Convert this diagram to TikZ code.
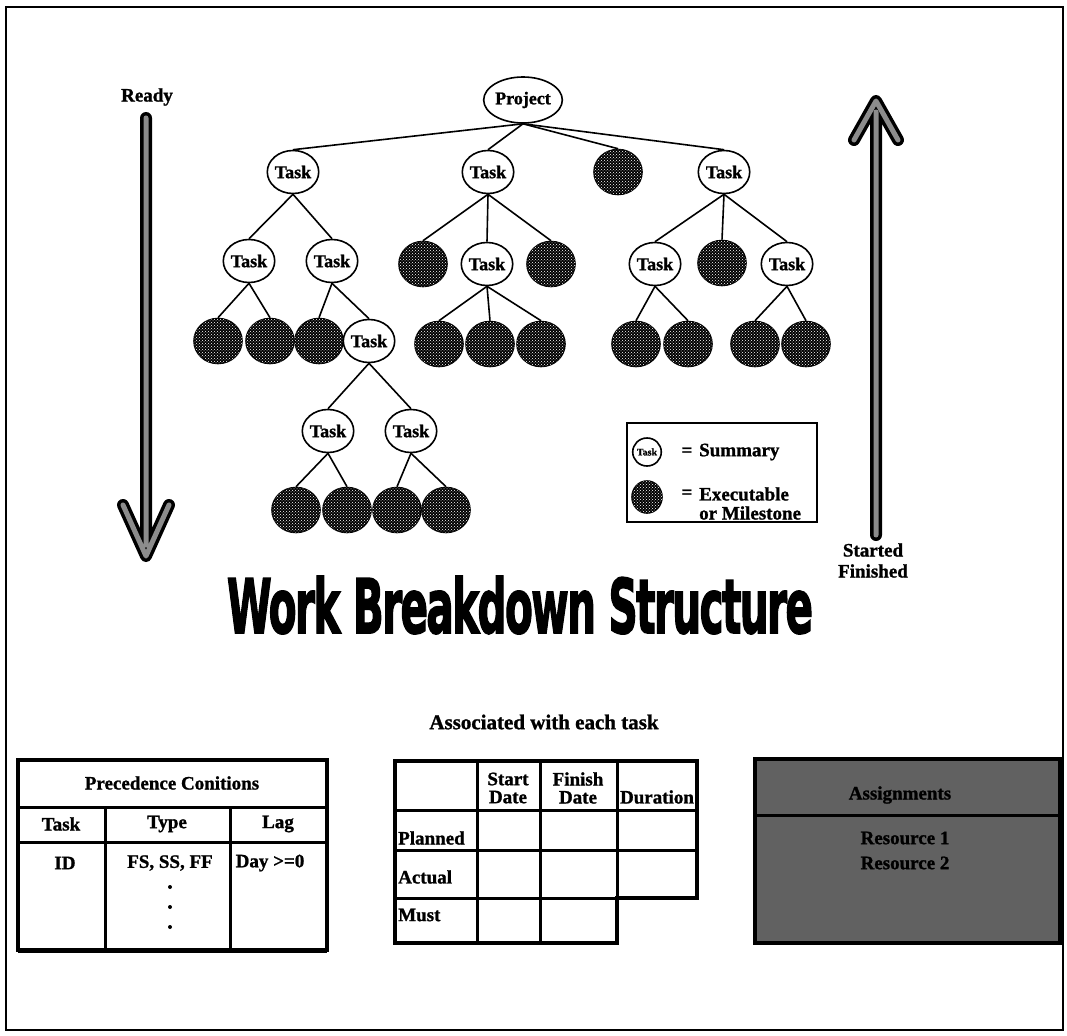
\documentclass[tikz,border=0pt]{standalone}
\usepackage{fontspec}
\usepackage{graphicx}
\setmainfont{Liberation Serif}[BoldFeatures={FakeBold=1.2}]
\newfontfamily\headfont{DejaVu Sans}[BoldFeatures={FakeBold=2.5}, LetterSpace=-4]
\usetikzlibrary{shapes.geometric,patterns}
\tikzset{
  lbl/.style={font=\fontsize{19}{21}\selectfont\bfseries, inner sep=0pt},
  summary/.style={ellipse, draw, line width=1.6pt, fill=white, minimum width=47pt,
    minimum height=43pt, inner sep=0pt, font=\fontsize{18}{20}\selectfont\bfseries},
  leaf/.style={ellipse, draw, line width=1.6pt, fill=black,
    postaction={pattern=crosshatch dots, pattern color=white},
    minimum width=48pt, minimum height=45pt, inner sep=0pt},
  link/.style={line width=1.6pt},
  rule/.style={line width=3pt},
  rim/.style={line width=4pt},
  shaftout/.style={line width=12pt, line join=round, line cap=round},
  shaftin/.style={line width=5pt, line join=round, line cap=round, black!45},
}
\begin{document}
\begin{tikzpicture}[x=1pt, y=-1pt]
\useasboundingbox (0,0) rectangle (1067,1035);
\draw[line width=2pt] (6,7) rectangle (1063,1030);

% ---------- tree ----------
\node[summary, minimum width=73pt, minimum height=46pt] (P) at (523,100) {Project};
\node[summary] (T1) at (293,172) {Task};
\node[summary] (T2) at (488,172) {Task};
\node[leaf]    (L0) at (618,172) {};
\node[summary] (T3) at (724,172) {Task};

\node[summary] (T11) at (249,261) {Task};
\node[summary] (T12) at (332,261) {Task};
\node[leaf]    (L21) at (423,264) {};
\node[summary] (T22) at (487,264) {Task};
\node[leaf]    (L23) at (551,264) {};
\node[summary] (T31) at (655,264) {Task};
\node[leaf]    (L32) at (722,263) {};
\node[summary] (T33) at (787,264) {Task};

\node[leaf]    (L111) at (218,341) {};
\node[leaf]    (L112) at (270,341) {};
\node[leaf]    (L121) at (319,341) {};
\node[summary] (T122) at (369,341) {Task};
\node[leaf]    (L221) at (439,344) {};
\node[leaf]    (L222) at (490,344) {};
\node[leaf]    (L223) at (541,344) {};
\node[leaf]    (L311) at (636,344) {};
\node[leaf]    (L312) at (688,344) {};
\node[leaf]    (L331) at (755,344) {};
\node[leaf]    (L332) at (806,344) {};

\node[summary] (T1221) at (328,431) {Task};
\node[summary] (T1222) at (411,431) {Task};

\node[leaf] (L1) at (296,510) {};
\node[leaf] (L2) at (347,510) {};
\node[leaf] (L3) at (397,510) {};
\node[leaf] (L4) at (446,510) {};

\foreach \a/\b in {P/T1, P/T2, P/L0, P/T3,
                   T1/T11, T1/T12, T2/L21, T2/T22, T2/L23,
                   T3/T31, T3/L32, T3/T33,
                   T11/L111, T11/L112, T12/L121, T12/T122,
                   T22/L221, T22/L222, T22/L223,
                   T31/L311, T31/L312, T33/L331, T33/L332,
                   T122/T1221, T122/T1222,
                   T1221/L1, T1221/L2, T1222/L3, T1222/L4}
  \draw[link] (\a.south) -- (\b.north);

% ---------- legend ----------
\draw[line width=1.8pt] (627,423) rectangle (817,522);
\node[summary, minimum width=28pt, minimum height=28pt, font=\fontsize{10}{11}\selectfont\bfseries] (keyT) at (647,452) {Task};
\node[leaf, minimum width=30pt, minimum height=32pt] (keyL) at (647,497) {};
\node[lbl] (eq1) at (687,452) {=};
\node[lbl] (eq2) at (687,494) {=};
\node[lbl, anchor=west] (ksum) at (699,452) {Summary};
\node[lbl, anchor=west] (kexe) at (699,494) {Executable};
\node[lbl, anchor=west] (kmil) at (699,513) {or Milestone};

% ---------- side arrows ----------
\node[lbl] (ready) at (147,97) {Ready};
\coordinate (rtop) at (146,118);
\coordinate (rtip) at (146,556);
\draw[shaftout] (rtop) -- (146,545) (123,505) -- (rtip) -- (169,505);
\draw[shaftin] (rtop) -- (146,545) (123,505) -- (rtip) -- (169,505);

\coordinate (utip) at (876,101);
\coordinate (ubot) at (876,535);
\draw[shaftout] (ubot) -- (876,112) (854,140) -- (utip) -- (898,140);
\draw[shaftin] (ubot) -- (876,112) (854,140) -- (utip) -- (898,140);
\node[lbl] (started) at (873,550) {Started};
\node[lbl] (finished) at (873,571) {Finished};

% ---------- title ----------
\node[inner sep=0pt] (title) at (520,605)
  {\resizebox{586pt}{57pt}{\headfont\bfseries Work Breakdown Structure}};

\node[lbl, font=\fontsize{21}{23}\selectfont\bfseries] (assoc) at (544,722) {Associated with each task};

% ---------- precedence table ----------
\draw[rim] (18,760) rectangle (327,950);
\draw[rule] (18,807) -- (327,807);
\draw[rule] (18,842) -- (327,842);
\draw[rule] (105,807) -- (105,950);
\draw[rule] (230,807) -- (230,950);
\draw[line width=3pt] (18,951) -- (327,951);
\node[lbl] (prec) at (172,783) {Precedence Conitions};
\node[lbl] (hTask) at (61,824) {Task};
\node[lbl] (hType) at (167,824) {Type};
\node[lbl] (hLag) at (278,824) {Lag};
\node[lbl] (vId) at (65,863) {ID};
\node[lbl] (vType) at (170,863) {FS, SS, FF};
\node[lbl] (vLag) at (270,863) {Day >=0};
\fill (170,887) circle (2pt) (170,907) circle (2pt) (170,927) circle (2pt);

% ---------- date table ----------
\draw[rim] (395,761) -- (697,761) -- (697,898) -- (617,898) -- (617,943) -- (395,943) -- cycle;
\draw[rule] (395,810) -- (697,810);
\draw[rule] (395,850) -- (697,850);
\draw[rule] (395,898) -- (617,898);
\draw[rule] (477,761) -- (477,943);
\draw[rule] (540,761) -- (540,943);
\draw[rule] (617,761) -- (617,898);
\node[lbl, align=center, font=\fontsize{19}{18}\selectfont\bfseries] (hStart) at (508,788) {Start\\Date};
\node[lbl, align=center, font=\fontsize{19}{18}\selectfont\bfseries] (hFinish) at (578,788) {Finish\\Date};
\node[lbl] (hDur) at (657,797) {Duration};
\node[lbl, anchor=west] (rPlan) at (398,838) {Planned};
\node[lbl, anchor=west] (rAct) at (398,877) {Actual};
\node[lbl, anchor=west] (rMust) at (398,915) {Must};

% ---------- assignments box ----------
\draw[rim, fill=black!62] (755,759) rectangle (1060,943);
\draw[rule] (755,815) -- (1060,815);
\node[lbl] (assign) at (900,795) {Assignments};
\node[lbl] (res1) at (905,838) {Resource 1};
\node[lbl] (res2) at (905,863) {Resource 2};
\end{tikzpicture}
\end{document}
